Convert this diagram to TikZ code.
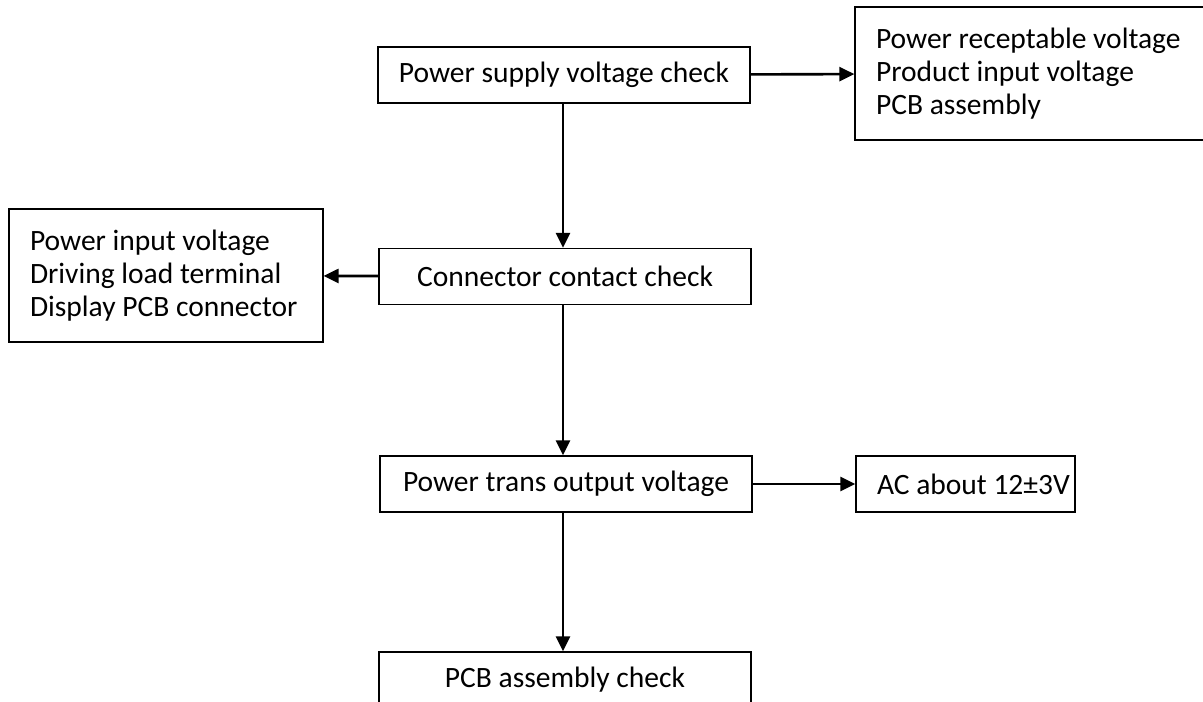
\documentclass[tikz,border=0pt]{standalone}
\usepackage{fontspec}
\setmainfont{Carlito}
\usetikzlibrary{arrows.meta}
\tikzstyle{stage}=[draw,rectangle,line width=0.75pt,minimum width=7.44cm,minimum height=1.12cm,inner sep=0pt,font=\fontsize{16.8}{18.8}\selectfont]
\tikzstyle{note}=[draw,rectangle,line width=0.75pt,minimum height=1.12cm,inner xsep=0.42cm,inner ysep=0pt,align=flush left,font=\fontsize{16.8}{18.8}\selectfont]
\tikzstyle{link}=[-{Triangle[length=0.3cm,width=0.28cm]},line width=1.5pt]

\begin{document}
\begin{tikzpicture}[x=0.02cm,y=-0.02cm]
\useasboundingbox (0,0) rectangle (1203,701);
\node[stage] (supply) at (564, 75) {Power supply voltage check};
\node[note,minimum height=2.66cm,text width=6.36cm] (supplynote) at (1035, 73.5) {Power receptable voltage\\Product input voltage\\PCB assembly};
\node[stage] (contact) at (565, 276.5) {Connector contact check};
\node[note,minimum height=2.66cm,text width=5.44cm] (contactnote) at (166, 275.5) {Power input voltage\\Driving load terminal\\Display PCB connector};
\node[stage] (trans) at (566, 484) {Power trans output voltage};
\node[note,text width=3.54cm] (transnote) at (965.5, 484) {\mbox{AC about 12±3V}};
\node[stage] (pcb) at (565, 680) {PCB assembly check};
\draw[link] (supply) -- (supplynote);
\draw[link] (supply.south -| 563,0) -- (contact.north -| 563,0);
\draw[link] (contact) -- (contactnote);
\draw[link] (contact.south -| 563,0) -- (trans.north -| 563,0);
\draw[link] (trans) -- (transnote);
\draw[link] (trans.south -| 563,0) -- (pcb.north -| 563,0);
\end{tikzpicture}
\end{document}
